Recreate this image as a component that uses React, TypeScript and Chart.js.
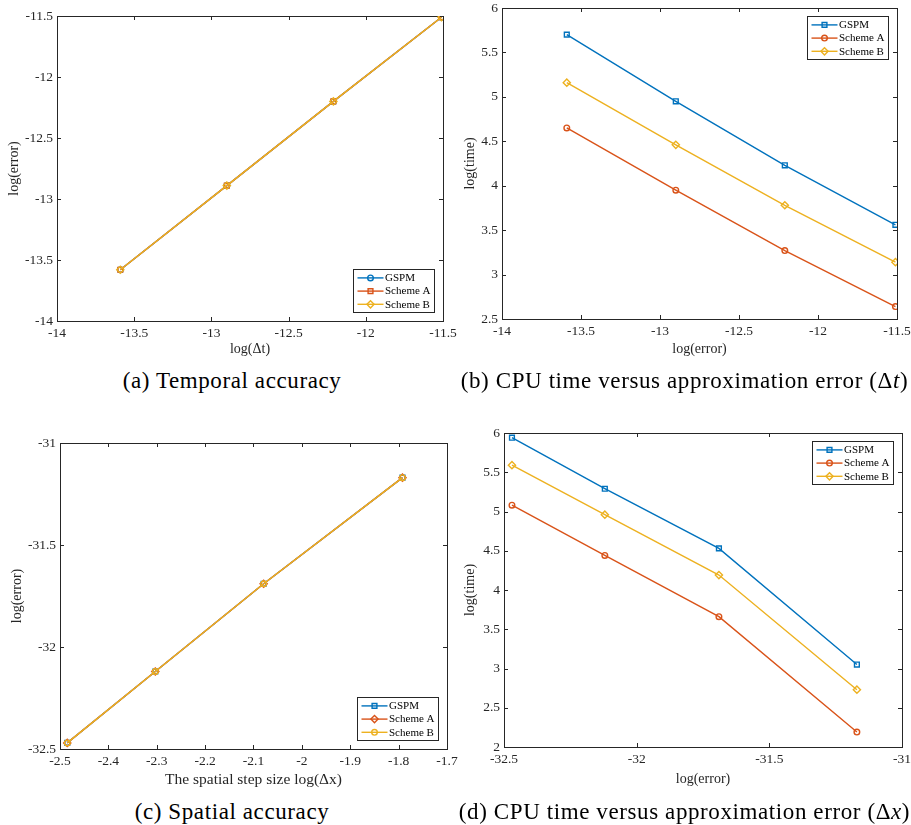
import React, { useEffect, useRef } from "react";
import { Chart, registerables } from "chart.js";
import { drawPoint } from "chart.js/helpers";

Chart.register(...registerables);

const SERIES = ["GSPM", "Scheme A", "Scheme B"];
const COLORS = ["#0072BD", "#D95319", "#EDB120"];

// Panel (a): temporal accuracy
const aLogDt = [-13.59, -12.9, -12.21, -11.51];
const aErrGSPM = [-13.58, -12.89, -12.2, -11.51];
const aErrSchemeA = [-13.58, -12.89, -12.2, -11.51];
const aErrSchemeB = [-13.58, -12.89, -12.2, -11.51];
const aXTicks = [-14, -13.5, -13, -12.5, -12, -11.5];
const aYTicks = [-14, -13.5, -13, -12.5, -12, -11.5];

// Panel (b): CPU time vs error (dt)
const bLogErr = [-13.59, -12.9, -12.21, -11.51];
const bTimeGSPM = [5.7, 4.95, 4.23, 3.56];
const bTimeSchemeA = [4.65, 3.95, 3.27, 2.64];
const bTimeSchemeB = [5.16, 4.46, 3.78, 3.14];
const bXTicks = [-14, -13.5, -13, -12.5, -12, -11.5];
const bYTicks = [2.5, 3, 3.5, 4, 4.5, 5, 5.5, 6];

// Panel (c): spatial accuracy
const cLogDx = [-2.485, -2.303, -2.079, -1.792];
const cErrGSPM = [-32.47, -32.12, -31.69, -31.17];
const cErrSchemeA = [-32.47, -32.12, -31.69, -31.17];
const cErrSchemeB = [-32.47, -32.12, -31.69, -31.17];
const cXTicks = [-2.5, -2.4, -2.3, -2.2, -2.1, -2, -1.9, -1.8, -1.7];
const cYTicks = [-32.5, -32, -31.5, -31];

// Panel (d): CPU time vs error (dx)
const dLogErr = [-32.47, -32.12, -31.69, -31.17];
const dTimeGSPM = [5.94, 5.29, 4.53, 3.05];
const dTimeSchemeA = [5.08, 4.44, 3.66, 2.19];
const dTimeSchemeB = [5.59, 4.96, 4.19, 2.73];
const dXTicks = [-32.5, -32, -31.5, -31];
const dYTicks = [2, 2.5, 3, 3.5, 4, 4.5, 5, 5.5, 6];

const FONT = "Liberation Serif";
const AXIS_COLOR = "#262626";
const TICK_SIZE = 13.5;
const TITLE_SIZE = 14;
const LH = 1.2;
const LINE_W = 1.4;

const MARKER_RADIUS: Record<string, number> = { circle: 2.8, rect: 3.4, rectRot: 3.6 };

type Panel = {
  left: number; top: number; w: number; h: number;
  area: { l: number; t: number; r: number; b: number };
  yTitleX: number; xTitleY: number;
  xMin: number; xMax: number; yMin: number; yMax: number;
  xTicks: number[]; yTicks: number[];
  xTitle: string; yTitle: string; xTitleSize: number;
  xs: number[]; ys: number[][]; markers: string[];
  legendCorner: "ne" | "se";
};

const PANELS: Panel[] = [
  {
    left: 0, top: 0, w: 458, h: 365,
    area: { l: 57, t: 16, r: 443, b: 321 },
    yTitleX: 14.3, xTitleY: 349.3,
    xMin: -14, xMax: -11.5, yMin: -14, yMax: -11.5,
    xTicks: aXTicks, yTicks: aYTicks,
    xTitle: "log(\u0394t)", yTitle: "log(error)", xTitleSize: TITLE_SIZE,
    xs: aLogDt, ys: [aErrGSPM, aErrSchemeA, aErrSchemeB],
    markers: ["circle", "rect", "rectRot"], legendCorner: "se",
  },
  {
    left: 455, top: 0, w: 456, h: 365,
    area: { l: 47, t: 8, r: 442, b: 319 },
    yTitleX: 15, xTitleY: 349.3,
    xMin: -14, xMax: -11.5, yMin: 2.5, yMax: 6,
    xTicks: bXTicks, yTicks: bYTicks,
    xTitle: "log(error)", yTitle: "log(time)", xTitleSize: TITLE_SIZE,
    xs: bLogErr, ys: [bTimeGSPM, bTimeSchemeA, bTimeSchemeB],
    markers: ["rect", "circle", "rectRot"], legendCorner: "ne",
  },
  {
    left: 0, top: 400, w: 460, h: 390,
    area: { l: 60, t: 43, r: 447, b: 349 },
    yTitleX: 17.3, xTitleY: 379.5,
    xMin: -2.5, xMax: -1.7, yMin: -32.5, yMax: -31,
    xTicks: cXTicks, yTicks: cYTicks,
    xTitle: "The spatial step size log(\u0394x)", yTitle: "log(error)", xTitleSize: 15.5,
    xs: cLogDx, ys: [cErrGSPM, cErrSchemeA, cErrSchemeB],
    markers: ["rect", "rectRot", "circle"], legendCorner: "se",
  },
  {
    left: 455, top: 400, w: 456, h: 390,
    area: { l: 49, t: 33, r: 447, b: 347 },
    yTitleX: 15, xTitleY: 379.5,
    xMin: -32.5, xMax: -31, yMin: 2, yMax: 6,
    xTicks: dXTicks, yTicks: dYTicks,
    xTitle: "log(error)", yTitle: "log(time)", xTitleSize: TITLE_SIZE,
    xs: dLogErr, ys: [dTimeGSPM, dTimeSchemeA, dTimeSchemeB],
    markers: ["rect", "circle", "rectRot"], legendCorner: "ne",
  },
];

const fmt = (v: number) => String(Math.round(v * 100) / 100);

const boxPlugin = {
  id: "matlabBox",
  beforeDatasetsDraw(chart: any) {
    const { ctx, chartArea } = chart;
    const { left, right, top, bottom } = chartArea;
    const xs = chart.scales.x;
    const ys = chart.scales.y;
    const tl = 4;
    ctx.save();
    ctx.strokeStyle = AXIS_COLOR;
    ctx.lineWidth = 1;
    ctx.beginPath();
    xs.ticks.forEach((t: any) => {
      const px = Math.round(xs.getPixelForValue(t.value)) + 0.5;
      ctx.moveTo(px, bottom); ctx.lineTo(px, bottom - tl);
      ctx.moveTo(px, top); ctx.lineTo(px, top + tl);
    });
    ys.ticks.forEach((t: any) => {
      const py = Math.round(ys.getPixelForValue(t.value)) + 0.5;
      ctx.moveTo(left, py); ctx.lineTo(left + tl, py);
      ctx.moveTo(right, py); ctx.lineTo(right - tl, py);
    });
    ctx.stroke();
    ctx.strokeRect(Math.round(left) + 0.5, Math.round(top) + 0.5, Math.round(right - left), Math.round(bottom - top));
    ctx.restore();
  },
};

const legendPlugin = {
  id: "matlabLegend",
  afterDatasetsDraw(chart: any, _args: any, opts: any) {
    const { ctx, chartArea } = chart;
    const ds = chart.data.datasets;
    ctx.save();
    ctx.font = `11px "${FONT}"`;
    const textW = Math.max(...ds.map((d: any) => ctx.measureText(d.label).width));
    const padL = 4, lineLen = 26, gap = 1.5, padR = 3.5, rowH = 13.2, padV = 1.8;
    const w = Math.round(padL + lineLen + gap + textW + padR);
    const h = Math.round(padV * 2 + rowH * ds.length);
    const bx = Math.round(chartArea.right - 9 - w) + 0.5;
    const by = Math.round(opts.corner === "ne" ? chartArea.top + 8 : chartArea.bottom - 9 - h) + 0.5;
    ctx.fillStyle = "#ffffff";
    ctx.fillRect(bx, by, w, h);
    ctx.strokeStyle = AXIS_COLOR;
    ctx.lineWidth = 1;
    ctx.strokeRect(bx, by, w, h);
    ds.forEach((d: any, i: number) => {
      const cy = by + padV + rowH * (i + 0.5);
      ctx.strokeStyle = d.borderColor;
      ctx.lineWidth = LINE_W;
      ctx.beginPath();
      ctx.moveTo(bx + padL, cy);
      ctx.lineTo(bx + padL + lineLen, cy);
      ctx.stroke();
      ctx.fillStyle = "rgba(255,255,255,0)";
      drawPoint(ctx, { pointStyle: d.pointStyle, radius: d.pointRadius, rotation: 0, borderWidth: LINE_W } as any, bx + padL + lineLen / 2, cy);
      ctx.fillStyle = "#000000";
      ctx.textAlign = "left";
      ctx.textBaseline = "middle";
      ctx.fillText(d.label, bx + padL + lineLen + gap, cy + 0.5);
    });
    ctx.restore();
  },
};

function PanelChart({ p }: { p: Panel }) {
  const ref = useRef<HTMLCanvasElement>(null);
  useEffect(() => {
    const titleLH = p.xTitleSize * LH;
    const xH = p.xTitleY + titleLH / 2 - p.area.b;
    const padBottom = p.h - p.area.b - xH;
    const yTitlePad = p.yTitleX - (TITLE_SIZE * LH) / 2;
    const chart = new Chart(ref.current as HTMLCanvasElement, {
      type: "scatter",
      data: {
        datasets: SERIES.map((name, i) => ({
          label: name,
          data: p.xs.map((x, j) => ({ x, y: p.ys[i][j] })),
          showLine: true,
          borderColor: COLORS[i],
          backgroundColor: "rgba(255,255,255,0)",
          borderWidth: LINE_W,
          pointStyle: p.markers[i],
          pointRadius: MARKER_RADIUS[p.markers[i]],
          pointBorderWidth: LINE_W,
          pointBorderColor: COLORS[i],
          pointBackgroundColor: "rgba(255,255,255,0)",
          order: 3 - i,
          tension: 0,
        })),
      } as any,
      options: {
        responsive: false,
        animation: false,
        events: [],
        layout: { padding: { left: 0, top: p.area.t, right: p.w - p.area.r, bottom: padBottom } },
        plugins: {
          legend: { display: false },
          tooltip: { enabled: false },
          matlabLegend: { corner: p.legendCorner },
        } as any,
        scales: {
          x: {
            type: "linear",
            min: p.xMin,
            max: p.xMax,
            afterBuildTicks: (s: any) => { s.ticks = p.xTicks.map((v) => ({ value: v })); },
            afterFit: (s: any) => { s.height = xH; s.paddingLeft = 0; s.paddingRight = 0; },
            grid: { display: false, drawTicks: false },
            border: { display: false },
            ticks: {
              font: { family: FONT, size: TICK_SIZE },
              color: AXIS_COLOR,
              padding: 4,
              maxRotation: 0,
              autoSkip: false,
              callback: (v: any) => fmt(Number(v)),
            },
            title: {
              display: true,
              text: p.xTitle,
              font: { family: FONT, size: p.xTitleSize, lineHeight: LH },
              color: AXIS_COLOR,
              padding: { top: 0, bottom: 0 },
            },
          },
          y: {
            type: "linear",
            min: p.yMin,
            max: p.yMax,
            afterBuildTicks: (s: any) => { s.ticks = p.yTicks.map((v) => ({ value: v })); },
            afterFit: (s: any) => { s.width = p.area.l; s.paddingTop = 0; s.paddingBottom = 0; },
            grid: { display: false, drawTicks: false },
            border: { display: false },
            ticks: {
              font: { family: FONT, size: TICK_SIZE },
              color: AXIS_COLOR,
              padding: 4,
              autoSkip: false,
              callback: (v: any) => fmt(Number(v)),
            },
            title: {
              display: true,
              text: p.yTitle,
              font: { family: FONT, size: TITLE_SIZE, lineHeight: LH },
              color: AXIS_COLOR,
              padding: { top: yTitlePad, bottom: 0 },
            },
          },
        },
      } as any,
      plugins: [boxPlugin, legendPlugin] as any,
    });
    return () => chart.destroy();
  }, [p]);
  return (
    <canvas
      ref={ref}
      width={p.w}
      height={p.h}
      style={{ position: "absolute", left: p.left, top: p.top, width: p.w, height: p.h }}
    />
  );
}

const captionStyle: React.CSSProperties = {
  position: "absolute",
  textAlign: "center",
  fontFamily: `"${FONT}", serif`,
  fontSize: 23,
  letterSpacing: "0.6px",
  lineHeight: "30px",
  height: 30,
  color: "#000",
  whiteSpace: "nowrap",
};

export default function App() {
  return (
    <div style={{ position: "absolute", left: 0, top: 0, width: 911, height: 825, background: "#fff", overflow: "hidden" }}>
      {PANELS.map((p, i) => (
        <PanelChart key={i} p={p} />
      ))}
      <div style={{ ...captionStyle, left: 0, top: 366, width: 464 }}>(a) Temporal accuracy</div>
      <div style={{ ...captionStyle, left: 456, top: 366, width: 457 }}>
        (b) CPU time versus approximation error (Δ<i>t</i>)
      </div>
      <div style={{ ...captionStyle, left: 0, top: 797, width: 464 }}>(c) Spatial accuracy</div>
      <div style={{ ...captionStyle, left: 456, top: 797, width: 457 }}>
        (d) CPU time versus approximation error (Δ<i>x</i>)
      </div>
    </div>
  );
}
